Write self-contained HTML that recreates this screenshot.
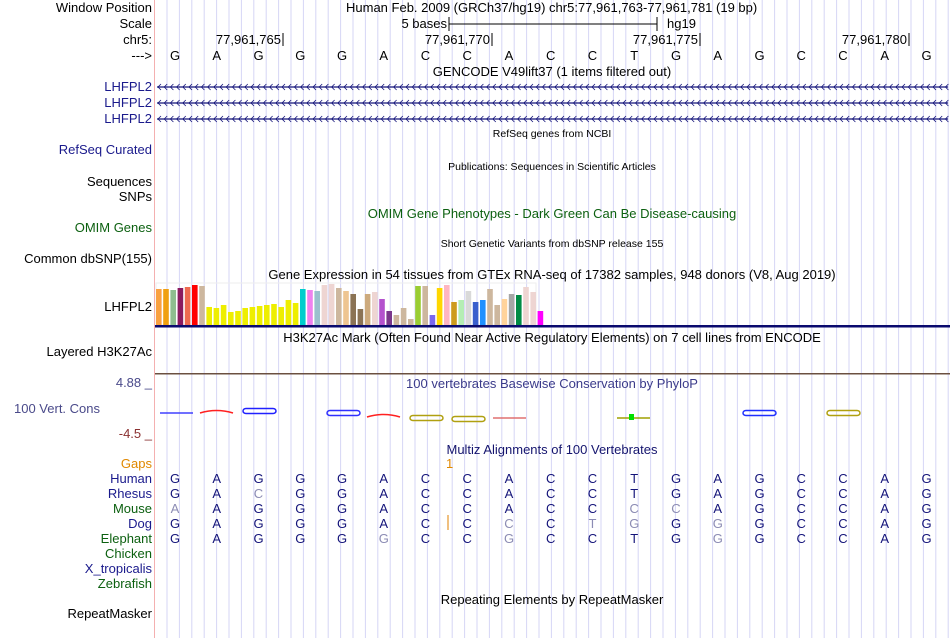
<!DOCTYPE html>
<html><head><meta charset="utf-8"><style>
body{margin:0;width:950px;height:638px;overflow:hidden;background:#fff;font-family:"Liberation Sans",sans-serif;position:relative}
.t{position:absolute;font-size:13px;white-space:nowrap;line-height:14px}
</style></head><body>
<svg id="svg" width="950" height="638" style="position:absolute;left:0;top:0"></svg>
<div id="txt"></div>
<script>
const bases=["G","A","G","G","G","A","C","C","A","C","C","T","G","A","G","C","C","A","G"];
const gtexHeights=[36,36,35,37,38,40,39,18,17,20,13,14,17,18,19,20,21,18,25,22,36,35,34,40,41,37,34,31,16,31,33,26,14,10,17,6,39,39,10,37,40,23,25,34,23,25,36,20,26,31,30,38,33,14];
const gtexColors=["#f9a040","#f0a010","#8fbc8f","#8b1a5f","#ee6a50","#ff0000","#cdb79e","#eeee00","#eeee00","#eeee00","#eeee00","#eeee00","#eeee00","#eeee00","#eeee00","#eeee00","#eeee00","#eeee00","#eeee00","#eeee00","#00cdcd","#ee82ee","#9ac0cd","#eed5d2","#eed5d2","#cdb79e","#eec591","#8b7355","#8b7355","#cdaa7d","#eed5d2","#b452cd","#7a378b","#cdb79e","#cdb79e","#cdb79e","#9acd32","#cdb79e","#7b68ee","#ffd700","#ffb6c1","#cd9b1d","#b4eeb4","#d9d9d9","#3a5fcd","#1e90ff","#cdb79e","#cdb79e","#ffd39b","#a6a6a6","#008b45","#eed5d2","#eed5d2","#ff00ff"];
const species=["Human","Rhesus","Mouse","Dog","Elephant"];
const alnRows=["GAGGGACCACCTGAGCCAG","GACGGACCACCTGAGCCAG","AAGGGACCACCCCAGCCAG","GAGGGACCCCTGGGGCCAG","GAGGGGCCGCCTGGGCCAG"];
const alnLight=[[],[2],[0,11,12],[8,10,11,13],[5,8,13]];
const ns="http://www.w3.org/2000/svg";
const svg=document.getElementById('svg');
function el(tag,a,parent){const e=document.createElementNS(ns,tag);for(const k in a)e.setAttribute(k,a[k]);(parent||svg).appendChild(e);return e;}
const bx=i=>175+41.75*i;
for(let x=167;x<950;x+=12.4){const l=el('line',{x1:x,x2:x,y1:0,y2:638,stroke:'#d6d6f6','stroke-width':1});

}
const sep=el('line',{x1:154.5,x2:154.5,y1:0,y2:638,stroke:'#f4b0b0','stroke-width':1});


el('line',{x1:449,x2:657,y1:24,y2:24,stroke:'#000'});el('line',{x1:449,x2:449,y1:17,y2:31,stroke:'#000'});el('line',{x1:657,x2:657,y1:17,y2:31,stroke:'#000'});
[283,492,700,909].forEach(x=>el('line',{x1:x,x2:x,y1:33,y2:46,stroke:'#000'}));
[87,103,119].forEach(y=>{el('line',{x1:157,x2:948,y1:y,y2:y,stroke:'#14147a','stroke-width':1.2});
for(let x=158;x<948;x+=6.2){el('path',{d:`M${x+3} ${y-3}L${x} ${y}L${x+3} ${y+3}`,stroke:'#14147a',fill:'none','stroke-width':0.8});}});
el('rect',{x:156,y:283,width:380,height:42,fill:'none',stroke:'#eee'});
gtexHeights.forEach((h,i)=>{const r=el('rect',{x:156+i*7.2,y:325-h,width:5.6,height:h,fill:gtexColors[i]});

});
el('rect',{x:155,y:325,width:795,height:2.5,fill:'#0a0a6e'});
el('rect',{x:155,y:373,width:795,height:1.5,fill:'#6b5040'});
const cons=[[160,193,'#4040ff','l',413],[200,233,'#ff2020','a',413],[243,276,'#2020ff','o',411],[327,360,'#3030ff','o',413],[367,400,'#ff2020','a',417],[410,443,'#b0a010','o',418],[452,485,'#b0a010','o',419],[493,526,'#e07070','l',418],[617,650,'#a0a000','l',418],[743,776,'#2030ff','o',413],[827,860,'#b0a010','o',413]];
cons.forEach(c=>{const [a,b,col,t,y]=c;
if(t==='l')el('line',{x1:a,x2:b,y1:y,y2:y,stroke:col,'stroke-width':1.5});
else if(t==='a')el('path',{d:`M${a} ${y}Q${(a+b)/2} ${y-5} ${b} ${y}`,stroke:col,fill:'none','stroke-width':1.5});
else el('rect',{x:a,y:y-2.5,width:b-a,height:5,rx:3,fill:'none',stroke:col,'stroke-width':1.5});});
el('rect',{x:629,y:414,width:5,height:6,fill:'#00e000'});
el('line',{x1:448,x2:448,y1:515,y2:530,stroke:'#e08000'});
const T=document.getElementById('txt');
function tx(s,x,y,o){const d=document.createElement('div');d.className='t';d.textContent=s;d.style.top=(y-7)+'px';
if(o.r){d.style.left='0px';d.style.width=o.r+'px';d.style.textAlign='right';}else if(o.m){d.style.left=(x-300)+'px';d.style.width='600px';d.style.textAlign='center';}else d.style.left=x+'px';
if(o.col)d.style.color=o.col;if(o.fs)d.style.fontSize=o.fs+'px';


T.appendChild(d);}
const L=[["Window Position",8,'#000'],["Scale",24,'#000'],["chr5:",40,'#000'],["--->",56,'#000'],["LHFPL2",87,'#1a1a8c'],["LHFPL2",103,'#1a1a8c'],["LHFPL2",119,'#1a1a8c'],["RefSeq Curated",150,'#1a1a8c'],["Sequences",182,'#000'],["SNPs",197,'#000'],["OMIM Genes",228,'#0c6010'],["Common dbSNP(155)",259,'#000'],["LHFPL2",307,'#000'],["Layered H3K27Ac",352,'#000'],["100 Vert. Cons",409,'#4a4a8a',100],["Gaps",464,'#e08800'],["Human",479,'#1a1a8c'],["Rhesus",494,'#1a1a8c'],["Mouse",509,'#0c6010'],["Dog",524,'#1a1a8c'],["Elephant",539,'#0c6010'],["Chicken",554,'#0c6010'],["X_tropicalis",569,'#1a1a8c'],["Zebrafish",584,'#0c6010'],["RepeatMasker",614,'#000']];
L.forEach(l=>tx(l[0],0,l[1],{r:l[3]||152,col:l[2],n:'track-label',i:true}));
tx("4.88 _",0,383,{r:152,col:'#4a4a8a',n:'y-max-label'});
tx("-4.5 _",0,434,{r:152,col:'#8a3030',n:'y-min-label'});
tx("Human Feb. 2009 (GRCh37/hg19)   chr5:77,961,763-77,961,781 (19 bp)",346,8,{n:'window-position'});
tx("5 bases",0,24,{r:447,n:'scale-label'});tx("hg19",667,24,{n:'assembly-label'});
[["77,961,765",281],["77,961,770",490],["77,961,775",698],["77,961,780",907]].forEach(p=>tx(p[0],0,40,{r:p[1],n:'ruler-tick-label'}));
bases.forEach((b,i)=>tx(b,bx(i),56,{m:1,n:'base'}));
const titles=[["GENCODE V49lift37 (1 items filtered out)",72,'#000',13],["RefSeq genes from NCBI",134,'#000',10.5],["Publications: Sequences in Scientific Articles",167,'#000',10.5],["OMIM Gene Phenotypes - Dark Green Can Be Disease-causing",214,'#0c6010',13],["Short Genetic Variants from dbSNP release 155",244,'#000',10.5],["Gene Expression in 54 tissues from GTEx RNA-seq of 17382 samples, 948 donors (V8, Aug 2019)",275,'#000',13],["H3K27Ac Mark (Often Found Near Active Regulatory Elements) on 7 cell lines from ENCODE",338,'#000',13],["100 vertebrates Basewise Conservation by PhyloP",384,'#3a3a8a',13],["Multiz Alignments of 100 Vertebrates",450,'#14146e',13],["Repeating Elements by RepeatMasker",600,'#000',13]];
titles.forEach(t=>tx(t[0],552,t[1],{m:1,col:t[2],fs:t[3],n:'track-title'}));
tx("1",446,464,{col:'#e08800',n:'gap-count'});
alnRows.forEach((row,r)=>{for(let i=0;i<row.length;i++){tx(row[i],bx(i),479+15*r,{m:1,col:alnLight[r].includes(i)?'#8c8cb4':'#14147a',n:'aligned-base'});}});
</script>
</body></html>
